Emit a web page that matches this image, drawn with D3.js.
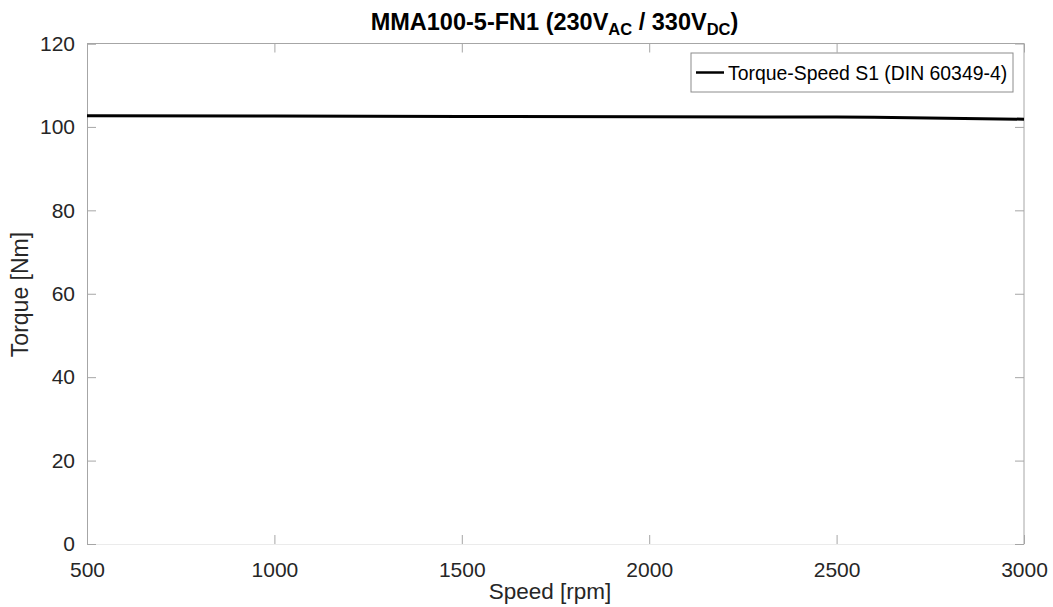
<!DOCTYPE html>
<html>
<head>
<meta charset="utf-8">
<script src="https://cdn.jsdelivr.net/npm/d3@7"></script>
<style>
  body { margin: 0; background: #fff; }
  text { font-family: "Liberation Sans", Arial, sans-serif; }
</style>
</head>
<body>
<svg width="1053" height="607"></svg>
<script>
var svg = d3.select("svg");

// data
var speed = [500, 1000, 1500, 2000, 2500, 2600, 3000];
var torque = [102.65, 102.6, 102.5, 102.45, 102.35, 102.3, 101.85];
var xTicks = [500, 1000, 1500, 2000, 2500, 3000];
var yTicks = [0, 20, 40, 60, 80, 100, 120];
var seriesName = "Torque-Speed S1 (DIN 60349-4)";

var margin = {left: 87, right: 1024, top: 43.5, bottom: 544};

var x = d3.scaleLinear().domain([500, 3000]).range([margin.left, margin.right]);
var y = d3.scaleLinear().domain([0, 120]).range([margin.bottom, margin.top]);

// Title
var title = svg.append("text")
  .attr("x", 554.5)
  .attr("y", 30)
  .attr("text-anchor", "middle")
  .attr("font-weight", "bold")
  .attr("font-size", 23.5)
  .attr("fill", "#000");
title.append("tspan").text("MMA100-5-FN1 (230V");
title.append("tspan").attr("font-size", 16.5).attr("dy", 5).text("AC");
title.append("tspan").attr("dy", -5).text(" / 330V");
title.append("tspan").attr("font-size", 16.5).attr("dy", 5).text("DC");
title.append("tspan").attr("dy", -5).text(")");

// Box
svg.append("line").attr("x1", margin.left).attr("x2", margin.right)
  .attr("y1", margin.top).attr("y2", margin.top).attr("stroke", "#a6a6a6");
svg.append("line").attr("x1", margin.right).attr("x2", margin.right)
  .attr("y1", margin.top).attr("y2", margin.bottom).attr("stroke", "#a6a6a6");

// X axis
var xAxis = svg.append("g")
  .attr("transform", "translate(0," + margin.bottom + ")")
  .call(d3.axisBottom(x).tickValues(xTicks).tickSize(-9).tickPadding(18).tickFormat(d3.format("d")));
xAxis.select(".domain").attr("stroke", "#ebebeb");
xAxis.selectAll(".tick line").attr("stroke", "#a6a6a6");
xAxis.selectAll(".tick text").attr("font-size", 21).attr("fill", "#262626")
  .attr("font-family", "Liberation Sans, Arial, sans-serif");

// Y axis
var yAxis = svg.append("g")
  .attr("transform", "translate(" + margin.left + ",0)")
  .call(d3.axisLeft(y).tickValues(yTicks).tickSize(-9).tickPadding(12));
yAxis.select(".domain").attr("stroke", "#a6a6a6");
yAxis.selectAll(".tick line").attr("stroke", "#a6a6a6");
yAxis.selectAll(".tick text").attr("font-size", 21).attr("fill", "#262626")
  .attr("font-family", "Liberation Sans, Arial, sans-serif");

// right ticks
svg.append("g")
  .attr("transform", "translate(" + margin.right + ",0)")
  .call(d3.axisRight(y).tickValues(yTicks).tickSize(-9).tickFormat(""))
  .call(function(g) {
    g.select(".domain").remove();
    g.selectAll(".tick line").attr("stroke", "#a6a6a6");
  });

// top ticks
svg.append("g")
  .attr("transform", "translate(0," + margin.top + ")")
  .call(d3.axisTop(x).tickValues(xTicks).tickSize(-9).tickFormat(""))
  .call(function(g) {
    g.select(".domain").remove();
    g.selectAll(".tick line").attr("stroke", "#a6a6a6");
  });

// Axis labels
svg.append("text")
  .attr("x", 550)
  .attr("y", 599)
  .attr("text-anchor", "middle")
  .attr("font-size", 22.5)
  .attr("fill", "#262626")
  .text("Speed [rpm]");

svg.append("text")
  .attr("transform", "translate(28,294.5) rotate(-90)")
  .attr("text-anchor", "middle")
  .attr("font-size", 23)
  .attr("fill", "#262626")
  .text("Torque [Nm]");

// Line
var line = d3.line()
  .x(function(d, i) { return x(speed[i]); })
  .y(function(d) { return y(d); });

svg.append("path")
  .datum(torque)
  .attr("d", line)
  .attr("fill", "none")
  .attr("stroke", "#000")
  .attr("stroke-width", 3);

// Legend
var lg = svg.append("g").attr("transform", "translate(691,53)");
lg.append("rect")
  .attr("width", 322)
  .attr("height", 39)
  .attr("fill", "#fff")
  .attr("stroke", "#8c8c8c");
lg.append("line")
  .attr("x1", 5).attr("x2", 33)
  .attr("y1", 19.5).attr("y2", 19.5)
  .attr("stroke", "#000")
  .attr("stroke-width", 2.5);
lg.append("text")
  .attr("x", 37)
  .attr("y", 26.5)
  .attr("font-size", 19.4)
  .attr("fill", "#000")
  .text(seriesName);
</script>
</body>
</html>
